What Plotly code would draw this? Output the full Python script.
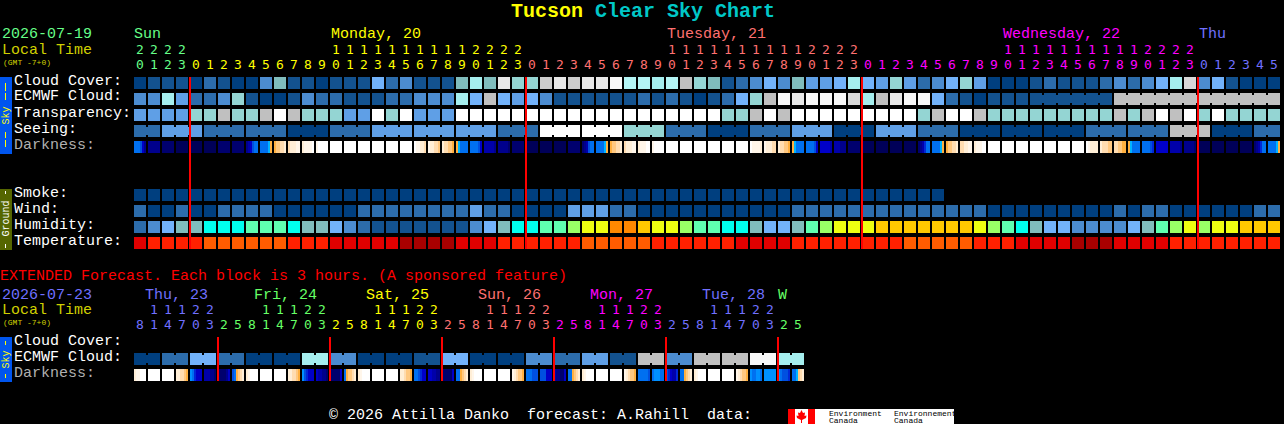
import plotly.graph_objects as go

W, H = 1284, 424
FONT = "Liberation Mono"
DIGIT_FONT = "DejaVu Sans Mono"

# ---------- palette ----------
palette = {
    "c0": "#003f7f", "c1": "#13528f", "c2": "#2c6cab", "c3": "#4c8cd0", "c4": "#5f9fe6", "c5": "#72b2fa",
    "c6": "#80bdbd", "c7": "#94d5d3", "c8": "#a5eeee", "t0": "#b4f5f5", "g1": "#c0c0c0", "g2": "#cccccc",
    "w3": "#d8d8d8", "w2": "#e8e8e8", "w1": "#f8f8f8", "w0": "#ffffff",
    "cy": "#00ffee", "mi": "#5fffb0", "li": "#99ff66", "ye": "#eeff11", "go": "#ffc800", "or": "#ff8800",
    "tr": "#e00000", "to": "#ff2000", "tn": "#ff5c00", "td": "#a80000",
}
dark_palette = {
    "a": "#000058", "b": "#00006e", "c": "#00008c", "d": "#0000aa", "e": "#0000c8", "f": "#0028d8",
    "g": "#0050e0", "h": "#0070f0", "i": "#0090ff", "j": "#00b4ff", "k": "#ffb040", "l": "#ffc880",
    "m": "#ffdcb0", "n": "#ffeed6", "o": "#fff6ea", "p": "#ffffff",
}

# ---------- hourly forecast ----------
hours = [20, 21, 22, 23] + list(range(24)) * 3 + list(range(6))
midnight_cols = [4, 28, 52, 76]
cloud_cover = ("c0 c1 c1 c1 c0 c2 c1 c0 c0 c3 c6 c1 c1 c0 c1 c1 c1 c5 c2 c3 c1 c1 c1 c6 c8 c6 w2 c7 c7 g2 w2 g2 w2 w2 w1 t0 t0 c8 t0 g1 c7 "
               "c6 c1 c2 c3 c5 c3 c6 c4 c4 c5 c8 c5 c4 c7 c4 c2 c3 c5 c7 c4 c0 c0 c0 c1 c2 c1 c1 c1 c2 c3 c2 c3 c5 c8 w3 c3 c5 c1 c0 c0 c0").split()
ecmwf_cloud = ("c3 c3 c8 c4 c2 c2 c3 c7 c1 c0 c0 c1 c3 c2 c2 c1 c1 c1 c2 c2 c3 c3 c3 c8 c5 g1 c5 c4 c5 c3 c1 c1 c1 c1 c1 c1 c2 c1 c2 c1 c0 "
               "c1 c2 c5 c7 g1 w1 w2 w1 w1 w1 w3 c8 g1 w2 w1 w1 c5 c2 c1 c0 c1 c1 c1 c1 c1 c1 c1 c1 c1 g1 g1 g1 g1 g1 g1 g1 g1 g1 g1 g1 g1").split()
transparency = ("c4 c4 c4 c4 c7 c7 g1 c7 c7 g1 w0 g1 c7 c7 c7 c4 c4 w0 c7 w0 c4 c4 c4 w0 w0 w0 w0 w0 w0 w0 w0 w0 w0 w0 w0 w0 w0 w0 w0 w0 w0 "
                "w0 c7 c7 g1 w0 g1 w0 w0 w0 w0 w0 w0 w0 w0 w0 c7 g1 w0 w0 g1 c7 c7 c7 c7 c7 c7 c7 c7 c7 g1 c7 g1 w0 g1 w0 c7 w0 c7 c7 c7 c7").split()
seeing = ("c2 c2 c4 c4 c4 c2 c2 c2 c2 c2 c2 c0 c0 c0 c2 c2 c2 c4 c4 c4 c4 c4 c4 c4 c4 c4 c2 c2 c2 w0 w0 w0 w0 w0 w0 c7 c7 c7 c2 c2 c2 "
          "c0 c0 c0 c2 c2 c2 c4 c4 c4 c0 c0 c0 c4 c4 c4 c2 c2 c2 c0 c0 c0 c0 c0 c0 c0 c0 c0 c2 c2 c2 c2 c2 c2 g1 g1 g1 c0 c0 c0 c2 c2").split()
darkness = ("hhhgec cccccc bbbbbb aaaaaa aaaaaa aaaaaa bbbbbb bbbbbb cdeghh hhhhjk kllmmn mnnnoo noooop oppppp pppppp pppppp pppppp pppppp pppppp pppppp "
            "poonnm onnmml nmmllk kjhhhh hhhhge dddddc cccccb bbbbbb aaaaaa aaaaaa aaaaaa bbbbbb bcdghh hhhhjk kllmmn mnnnoo nooopp oppppp pppppp pppppp pppppp pppppp "
            "pppppp pppppp poooon onnnmm nmmllk kjhhhh hhhhge eeeeed dddccc bbbbbb aaaaaa aaaaaa aaaaaa aaaaaa bcdfhh hhhhjk kllmmn mmnnoo nooopp pppppp pppppp pppppp "
            "pppppp pppppp pppppp pppppp ponnnn nmmmll mmllkk kjhhhh hhhhgf eeeeee dddddc cccccb aaaaaa aaaaaa aaaaaa aaaaaa bcdfhh hhhhjk").split()
smoke = ["c0"] * 58 + [None] * 24
wind = ("c2 c0 c0 c2 c0 c0 c2 c2 c2 c2 c0 c0 c0 c0 c0 c0 c2 c2 c2 c2 c2 c2 c2 c2 c4 c2 c2 c0 c0 c0 c0 c4 c4 c4 c2 c2 c0 c0 c0 c0 c0 "
        "c0 c0 c0 c0 c0 c0 c2 c2 c2 c2 c2 c2 c2 c2 c2 c2 c2 c2 c2 c2 c0 c0 c0 c0 c0 c0 c0 c0 c0 c2 c0 c2 c2 c0 c0 c0 c0 c0 c0 c2 c2").split()
humidity = ("c2 c3 c5 c6 c6 cy cy cy mi mi mi cy c6 c6 c5 c3 c2 c1 c1 c1 c1 c1 c1 c1 c3 c5 c6 cy cy mi mi li ye ye or or go ye ye li mi "
            "mi cy cy c6 c5 c5 c6 mi li ye ye ye go go go go go go go ye li mi cy c6 c5 c5 c3 c3 c3 c3 c5 c6 mi li ye li ye ye go go go").split()
temperature = ("tr to to to to tn tn tn tn tn tn to to to tr tr tr tr tr td td td td tr tr tr to to to to to to tn tn tn tn tn to to to to "
               "to to tr tr tr tr to to to to to to to to tn tn tn tn tn to to to tr tr tr tr td td td tr tr tr tr to to to to to to to to").split()

# ---------- extended forecast ----------
ext_hours = [8, 11, 14, 17, 20, 23] + [2, 5, 8, 11, 14, 17, 20, 23] * 5 + [2, 5]
ext_midnight_cols = [6, 14, 22, 30, 38, 46]
ext_ecmwf = ("c0 c0 c2 c2 c5 c5 c2 c2 c0 c0 c0 c0 c8 c8 c3 c3 c0 c0 c0 c0 c1 c1 c5 c5 c0 c0 c0 c0 c3 c3 c2 c2 c4 c4 c1 c1 "
             "g1 g1 c3 c3 g1 g1 g1 g1 w1 w1 c8 c8").split()
ext_darkness = ("nooppp pppppp pppppp nnmmlk ihfeee dddccb bbbbce ghklmn nopppp pppppp pppppp nnmmlk igfeee eddccb bbbbbe hkllmn nopppp pppppp pppppp nnmllk "
                "hhgfee eeddcc bbbbbe hhklmn nopppp pppppp pppppp onmllk hhhggg gggeee dccbbe hhklmn nopppp pppppp pppppp onmllk hhhhhg hiiihh gfeddf hhklmn "
                "nopppp pppppp pppppp onmllk ihhiih iiiiii ihgggf hhjlmn").split()

main_day_labels = [("Sun", 0), ("Monday, 20", 14), ("Tuesday, 21", 38), ("Wednesday, 22", 62), ("Thu", 76)]
main_day_colors = ["#66ff88", "#ffff00", "#ff7070", "#ff00ff", "#7070ff"]
main_day_starts = [0, 4, 28, 52, 76]
ext_day_labels = [("Thu, 23", 0.75), ("Fri, 24", 8.6), ("Sat, 25", 16.6), ("Sun, 26", 24.6), ("Mon, 27", 32.6), ("Tue, 28", 40.6), ("W", 46)]
ext_day_colors = ["#7070ff", "#66ff66", "#ffff00", "#ff7070", "#ff00ff", "#7070ff", "#66ff66"]
ext_day_starts = [0, 6, 14, 22, 30, 38, 46]

# ---------- axis geometry: x = column number, 14 px per column, column 0 at px 134
CX0, CW = 134, 14
MAIN_Y0, EXT_Y0, RH = 77, 337, 16
xr = [-CX0 / CW, (W - CX0) / CW]
yr = [(H - MAIN_Y0) / RH, -MAIN_Y0 / RH]
y2r = [(H - EXT_Y0) / RH, -EXT_Y0 / RH]
col_c = 6 / 14
row_c = 6 / 16

names = list(palette)
pscale = [[i / (len(names) - 1), palette[n]] for i, n in enumerate(names)]
dnames = list(dark_palette)
dscale = [[i / (len(dnames) - 1), dark_palette[n]] for i, n in enumerate(dnames)]


def idx(series):
    return [None if v is None else names.index(v) for v in series]


fig = go.Figure()


def blocks(series, yaxis):
    rows = [(i, s) for i, s in series]
    maxr = max(i for i, _ in rows)
    n = len(rows[0][1])
    z = [[None] * n for _ in range(maxr + 1)]
    for i, s in rows:
        z[i] = idx(s)
    fig.add_trace(go.Heatmap(
        z=z, x0=col_c, dx=1, y0=row_c, dy=1, xgap=2, ygap=4, colorscale=pscale, zmin=0, zmax=len(names) - 1,
        showscale=False, hoverinfo="skip", xaxis="x", yaxis=yaxis))


def dark_strip(cells, row, yaxis):
    edges, vals = [], []
    for k, cell in enumerate(cells):
        for j, ch in enumerate(cell):
            edges.append(k - 0.0 + j * 2 / 14)
            vals.append(dnames.index(ch))
        edges.append(k + 12 / 14)
        vals.append(None)
    edges.append(len(cells))
    fig.add_trace(go.Heatmap(
        z=[vals], x=edges, y=[row, row + 12 / 16], colorscale=dscale, zmin=0, zmax=len(dnames) - 1,
        showscale=False, hoverinfo="skip", xaxis="x", yaxis=yaxis))


def bridges(series, row, same_block, yaxis):
    by_color = {}
    for k in range(len(series) - 1):
        if series[k] == series[k + 1] and same_block(k):
            by_color.setdefault(series[k], []).append(k)
    for c, ks in by_color.items():
        xs, ys = [], []
        for k in ks:
            xs += [k + 11.5 / 14, k + 1 + 0.5 / 14, None]
            ys += [row + row_c, row + row_c, None]
        fig.add_trace(go.Scatter(x=xs, y=ys, mode="lines", line=dict(color=palette[c], width=8),
                                 hoverinfo="skip", showlegend=False, xaxis="x", yaxis=yaxis))


blocks([(0, cloud_cover), (1, ecmwf_cloud), (2, transparency), (3, seeing),
        (7, smoke), (8, wind), (9, humidity), (10, temperature)], "y")
dark_strip(darkness, 4, "y")
bridges(seeing, 3, lambda k: (k + 1) // 3 == (k + 2) // 3, "y")
bridges(ecmwf_cloud, 1, lambda k: k >= 64, "y")

blocks([(1, ext_ecmwf)], "y2")
dark_strip(ext_darkness, 2, "y2")
bridges(ext_ecmwf, 1, lambda k: k // 2 == (k + 1) // 2, "y2")

# red midnight markers
xs, ys = [], []
for k in midnight_cols:
    xs += [k, k, None]
    ys += [0, 10.75, None]
fig.add_trace(go.Scatter(x=xs, y=ys, mode="lines", line=dict(color="#ff0000", width=2), hoverinfo="skip", showlegend=False))
xs, ys = [], []
for k in ext_midnight_cols:
    xs += [k, k, None]
    ys += [0, 2.75, None]
fig.add_trace(go.Scatter(x=xs, y=ys, mode="lines", line=dict(color="#ff0000", width=2), hoverinfo="skip", showlegend=False,
                         xaxis="x", yaxis="y2"))


def color_for(k, starts, colors):
    c = colors[0]
    for s, col in zip(starts, colors):
        if k >= s:
            c = col
    return c


def digits(hrs, starts, colors, tens_px, units_px, y0, yaxis):
    cols = [color_for(k, starts, colors) for k in range(len(hrs))]
    tk = [k for k, h in enumerate(hrs) if h >= 10]
    fig.add_trace(go.Scatter(x=[k + col_c for k in tk], y=[(tens_px - y0) / RH] * len(tk), mode="text",
                             text=[str(hrs[k] // 10) for k in tk], textposition="middle center",
                             textfont=dict(family=DIGIT_FONT, size=13, color=[cols[k] for k in tk]),
                             hoverinfo="skip", showlegend=False, xaxis="x", yaxis=yaxis))
    fig.add_trace(go.Scatter(x=[k + col_c for k in range(len(hrs))], y=[(units_px - y0) / RH] * len(hrs), mode="text",
                             text=[str(h % 10) for h in hrs], textposition="middle center",
                             textfont=dict(family=DIGIT_FONT, size=13, color=cols),
                             hoverinfo="skip", showlegend=False, xaxis="x", yaxis=yaxis))


digits(hours, main_day_starts, main_day_colors, 51, 66, MAIN_Y0, "y")
digits(ext_hours, ext_day_starts, ext_day_colors, 311, 326, EXT_Y0, "y2")

ann = []


def txt(x, y, s, color="#ffffff", size=15, anchor="left", bold=False, family=FONT, angle=0):
    if bold:
        s = "<b>" + s + "</b>"
    ann.append(dict(x=x / W, y=1 - (y + 1) / H, xref="paper", yref="paper", text=s.replace(" ", "\u00a0"), showarrow=False,
                    xanchor=anchor, yanchor="middle", align="left", textangle=angle, borderpad=0, borderwidth=0,
                    font=dict(family=family, size=size, color=color)))


# title
ann.append(dict(x=642.5 / W, y=1 - 12 / H, xref="paper", yref="paper", showarrow=False, xanchor="center", yanchor="middle",
                text="<b><span style='color:#ffff00'>Tucson</span>\u00a0<span style='color:#00c8c8'>Clear\u00a0Sky\u00a0Chart</span></b>",
                font=dict(family=FONT, size=20, color="#ffff00")))
# main header
txt(2, 34, "2026-07-19", "#66ff88")
txt(2, 49, "Local Time", "#d0d000")
txt(3, 61, "(GMT -7+0)", "#d0d000", size=8)
for (s, k), c in zip(main_day_labels, main_day_colors):
    txt(CX0 + CW * k + (1 if k else 0), 34, s, c)
for i, (s, c) in enumerate([("Cloud Cover:", "#fff"), ("ECMWF Cloud:", "#fff"), ("Transparency:", "#fff"), ("Seeing:", "#fff"), ("Darkness:", "#b0b0b0")]):
    txt(14, 80 + RH * i, s, c)
for i, s in enumerate(["Smoke:", "Wind:", "Humidity:", "Temperature:"]):
    txt(14, 192 + RH * i, s)
txt(0, 275, "EXTENDED Forecast. Each block is 3 hours. (A sponsored feature)", "#ff0000")
txt(2, 294, "2026-07-23", "#7070ff")
txt(2, 309, "Local Time", "#d0d000")
txt(3, 321, "(GMT -7+0)", "#d0d000", size=8)
for (s, k), c in zip(ext_day_labels, ext_day_colors):
    txt(CX0 + CW * k, 294, s, c)
for i, (s, c) in enumerate([("Cloud Cover:", "#fff"), ("ECMWF Cloud:", "#fff"), ("Darkness:", "#b0b0b0")]):
    txt(14, 340 + RH * i, s, c)
txt(329, 414, "© 2026 Attilla Danko  forecast: A.Rahill  data:")
txt(829, 412, "Environment", "#000000", size=8)
txt(829, 419, "Canada", "#000000", size=8)
txt(894, 412, "Environnement", "#000000", size=8)
txt(894, 419, "Canada", "#000000", size=8)
txt(5.5, 114, "Sky", "#ffff00", size=10, anchor="center", angle=-90)
txt(5.5, 218, "Ground", "#ffffff", size=10, anchor="center", angle=-90)
txt(5.5, 358, "Sky", "#ffff00", size=10, anchor="center", angle=-90)


def rect(x0, y0, x1, y1, color, layer="below"):
    return dict(type="rect", xref="paper", yref="paper", x0=x0 / W, x1=x1 / W, y0=1 - y0 / H, y1=1 - y1 / H,
                fillcolor=color, line=dict(width=0), layer=layer)


shapes = [rect(0, 77, 12, 154, "#0055ee"), rect(0, 189, 12, 250, "#556600"), rect(0, 337, 12, 382, "#0055ee"),
          rect(788, 409, 815, 424, "#ff0000"), rect(795, 409, 808, 424, "#ffffff"), rect(815, 409, 954, 424, "#ffffff")]
for y0, y1, c in [(83, 91, "#ffff00"), (93, 100, "#ffff00"), (132, 138, "#ffff00"), (140, 147, "#ffff00"),
                  (191, 194, "#ffffff"), (244, 248, "#ffffff"), (341, 345, "#ffff00"), (374, 378, "#ffff00")]:
    shapes.append(rect(5, y0, 6, y1, c))
# maple leaf
leaf = [(801.5, 410), (803, 413), (805, 412.5), (804.5, 416), (806.5, 415.5), (806, 418), (802, 420), (802, 423), (801, 423),
        (801, 420), (797, 418), (796.5, 415.5), (798.5, 416), (798, 412.5), (800, 413)]
path = "M" + " L".join(f"{x / W:.5f},{1 - y / H:.5f}" for x, y in leaf) + " Z"
shapes.append(dict(type="path", xref="paper", yref="paper", path=path, fillcolor="#ff0000", line=dict(width=0), layer="below"))

axis = dict(visible=False, fixedrange=True)
fig.update_layout(
    width=W, height=H, margin=dict(l=0, r=0, t=0, b=0, pad=0), autosize=False,
    paper_bgcolor="#000000", plot_bgcolor="rgba(0,0,0,0)", showlegend=False,
    xaxis=dict(range=xr, domain=[0, 1], **axis),
    yaxis=dict(range=yr, domain=[0, 1], **axis),
    yaxis2=dict(range=y2r, domain=[0, 1], overlaying="y", **axis),
    annotations=ann, shapes=shapes,
)
fig.write_html("out.html", config=dict(displayModeBar=False),
               post_script="document.body.style.margin='0';document.body.style.background='#000';document.body.style.overflow='hidden';")
